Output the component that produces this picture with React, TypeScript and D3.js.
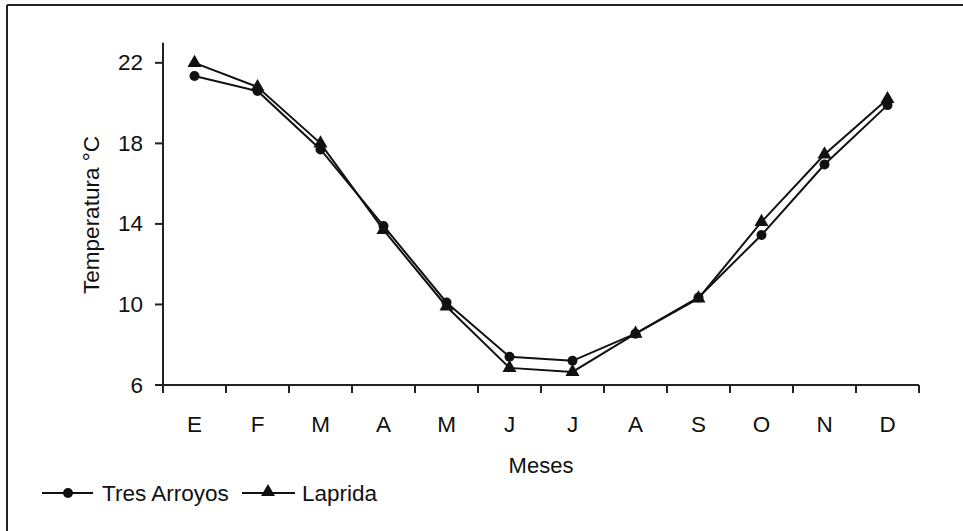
import React from "react";
import * as d3 from "d3";

const months = ["E", "F", "M", "A", "M ", "J", "J ", "A ", "S", "O", "N", "D"];
const monthLabels = ["E", "F", "M", "A", "M", "J", "J", "A", "S", "O", "N", "D"];
const tresArroyos = [21.35, 20.6, 17.7, 13.9, 10.1, 7.4, 7.2, 8.55, 10.35, 13.45, 16.95, 19.9];
const laprida = [22.0, 20.8, 18.0, 13.7, 9.9, 6.85, 6.65, 8.55, 10.3, 14.1, 17.45, 20.2];
const yTicks = [6, 10, 14, 18, 22];
const seriesNames = ["Tres Arroyos", "Laprida"];

const W = 963;
const H = 531;
const left = 163;
const right = 919;
const top = 42.7;
const bottom = 385;
const font = "Arial, 'Liberation Sans', Helvetica, sans-serif";

export default function App() {
  const x = d3.scaleBand<string>().domain(months).range([left, right]).padding(0);
  const y = d3.scaleLinear().domain([6, 23]).range([bottom, top]);
  const cx = (i: number) => (x(months[i]) as number) + x.bandwidth() / 2;
  const line = d3
    .line<number>()
    .x((_, i) => cx(i))
    .y((d) => y(d));
  const tri = d3.symbol().type(d3.symbolTriangle).size(85)();
  const boundaries = d3.range(months.length + 1).map((i) => left + i * x.bandwidth());

  return (
    <svg
      width={W}
      height={H}
      style={{ position: "absolute", left: 0, top: 0, background: "#fff" }}
      fontFamily={font}
    >
      <rect x={0} y={0} width={W} height={H} fill="#fff" />
      {/* frame */}
      <line x1={7} y1={5} x2={W} y2={5} stroke="#222" strokeWidth={2} />
      <line x1={7} y1={5} x2={7} y2={H} stroke="#222" strokeWidth={2} />

      {/* y axis */}
      <line x1={left} y1={top} x2={left} y2={bottom} stroke="#222" strokeWidth={2} />
      {yTicks.map((t) => (
        <g key={t}>
          <line x1={left - 8} x2={left} y1={y(t)} y2={y(t)} stroke="#222" strokeWidth={2} />
          <text x={143} y={y(t) + 7.5} textAnchor="end" fontSize={22.5} fill="#111">
            {t}
          </text>
        </g>
      ))}
      {/* x axis */}
      <line x1={left} y1={bottom} x2={right} y2={bottom} stroke="#222" strokeWidth={2} />
      {boundaries.map((b, i) => (
        <line key={i} x1={b} x2={b} y1={bottom} y2={bottom + 8} stroke="#222" strokeWidth={2} />
      ))}
      {months.map((m, i) => (
        <text key={m} x={cx(i)} y={432} textAnchor="middle" fontSize={22.5} fill="#111">
          {monthLabels[i]}
        </text>
      ))}

      {/* axis titles */}
      <text
        transform={`translate(99,215) rotate(-90)`}
        textAnchor="middle"
        fontSize={22.5}
        fill="#111"
      >
        Temperatura °C
      </text>
      <text x={(left + right) / 2} y={473} textAnchor="middle" fontSize={22} fill="#111">
        Meses
      </text>

      {/* series */}
      <path d={line(tresArroyos) || ""} fill="none" stroke="#111" strokeWidth={2} />
      <path d={line(laprida) || ""} fill="none" stroke="#111" strokeWidth={2} />
      {tresArroyos.map((v, i) => (
        <circle key={"c" + i} cx={cx(i)} cy={y(v)} r={5} fill="#111" />
      ))}
      {laprida.map((v, i) => (
        <path key={"t" + i} d={tri || ""} transform={`translate(${cx(i)},${y(v)})`} fill="#111" />
      ))}

      {/* legend */}
      <line x1={42} x2={93} y1={493} y2={493} stroke="#111" strokeWidth={2} />
      <circle cx={68} cy={493} r={5} fill="#111" />
      <text x={102} y={501} fontSize={22.5} fill="#111">
        {seriesNames[0]}
      </text>
      <line x1={242} x2={295} y1={493} y2={493} stroke="#111" strokeWidth={2} />
      <path d={tri || ""} transform={`translate(268,492)`} fill="#111" />
      <text x={302} y={501} fontSize={22.5} fill="#111">
        {seriesNames[1]}
      </text>
    </svg>
  );
}
